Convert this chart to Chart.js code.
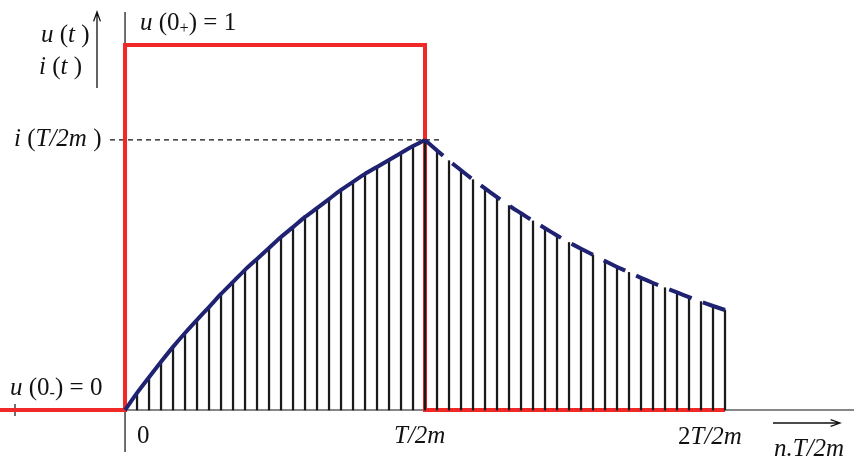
<!DOCTYPE html>
<html>
<head>
<meta charset="utf-8">
<script src="https://cdn.jsdelivr.net/npm/chart.js@4.4.0/dist/chart.umd.min.js"></script>
<style>
body { margin: 0; background: #fff; }
#wrap { width: 854px; height: 459px; }
</style>
</head>
<body>
<div id="wrap"><canvas id="myChart"></canvas></div>
<script>
// input step u(t): time (in steps n) and value
var uTimes  = [-11, 0, 0, 25, 25, 50];
var uValues = [0, 0, 1, 1, 0, 0];

// current samples i(n.T/2m), u(0+) = 1
var riseN = [0,1,2,3,4,5,6,7,8,9,10,11,12,13,14,15,16,17,18,19,20,21,22,23,24,25];
var riseI = [0, .047, .090, .132, .173, .211, .247, .282, .318, .351, .384, .414, .444,
             .474, .501, .529, .553, .578, .603, .625, .647, .666, .685, .704, .723, .740];
var fallN = [25,26,27,28,29,30,31,32,33,34,35,36,37,38,39,40,41,42,43,44,45,46,47,48,49,50];
var fallI = [.740, .711, .683, .657, .631, .607, .583, .560, .539, .518, .498, .478, .459,
             .442, .425, .408, .392, .377, .362, .348, .335, .322, .309, .297, .285, .274];

var peakN = 25;
var peakI = .740;

function pts(xs, ys) {
    return xs.map(function (x, k) { return { x: x, y: ys[k] }; });
}

// stems at every sample n = 1..50
var stems = pts(riseN, riseI).slice(1).concat(pts(fallN, fallI).slice(1));

var serif = '"Liberation Serif", "Times New Roman", serif';
var FS = 25;

// draw text made of parts: [text, 'i' italic | 'r' regular | 's' subscript]
function rich(ctx, x, y, parts) {
    ctx.textBaseline = 'middle';
    ctx.textAlign = 'left';
    ctx.fillStyle = '#111';
    parts.forEach(function (p) {
        var size = p[1] == 's' ? FS * 0.65 : FS;
        var dy = p[1] == 's' ? 6 : 0;
        ctx.font = (p[1] == 'i' ? 'italic ' : '') + size + 'px ' + serif;
        ctx.fillText(p[0], x, y + dy);
        x += ctx.measureText(p[0]).width;
    });
}

function arrow(ctx, x1, y1, x2, y2) {
    ctx.beginPath();
    ctx.moveTo(x1, y1);
    ctx.lineTo(x2, y2);
    var a = Math.atan2(y2 - y1, x2 - x1);
    ctx.moveTo(x2 - 10 * Math.cos(a - 0.35), y2 - 10 * Math.sin(a - 0.35));
    ctx.lineTo(x2, y2);
    ctx.lineTo(x2 - 10 * Math.cos(a + 0.35), y2 - 10 * Math.sin(a + 0.35));
    ctx.stroke();
}

var axesPlugin = {
    id: 'axes',
    beforeDatasetsDraw: function (chart) {
        var ctx = chart.ctx, xs = chart.scales.x, ys = chart.scales.y;
        var x0 = xs.getPixelForValue(0), y0 = ys.getPixelForValue(0);
        ctx.save();
        ctx.strokeStyle = '#111';
        ctx.lineWidth = 1.2;
        ctx.beginPath();
        ctx.moveTo(5, y0); ctx.lineTo(chart.width, y0);
        ctx.moveTo(x0, 12); ctx.lineTo(x0, 452);
        ctx.moveTo(15, y0 - 6); ctx.lineTo(15, y0 + 6);
        ctx.stroke();
        // dashed level of i(T/2m)
        var yp = ys.getPixelForValue(peakI);
        ctx.setLineDash([5, 4]);
        ctx.beginPath();
        ctx.moveTo(110, yp); ctx.lineTo(xs.getPixelForValue(peakN) + 18, yp);
        ctx.stroke();
        ctx.restore();
    },
    afterDraw: function (chart) {
        var ctx = chart.ctx, xs = chart.scales.x, ys = chart.scales.y;
        ctx.save();
        ctx.strokeStyle = '#111';
        ctx.lineWidth = 1.3;
        arrow(ctx, 97, 88, 97, 12);
        arrow(ctx, 773, 423, 840, 423);
        rich(ctx, 41, 35, [['u', 'i'], [' (', 'r'], ['t', 'i'], [' )', 'r']]);
        rich(ctx, 39, 67, [['i', 'i'], [' (', 'r'], ['t', 'i'], [' )', 'r']]);
        rich(ctx, 140, 23, [['u', 'i'], [' (0', 'r'], ['+', 's'], [') = 1', 'r']]);
        rich(ctx, 14, ys.getPixelForValue(peakI), [['i', 'i'], [' (', 'r'], ['T/2m', 'i'], [' )', 'r']]);
        rich(ctx, 10, 388, [['u', 'i'], [' (0', 'r'], ['-', 's'], [') = 0', 'r']]);
        rich(ctx, 137, 436, [['0', 'r']]);
        rich(ctx, 394, 436, [['T/2m', 'i']]);
        rich(ctx, 678, 437, [['2', 'r'], ['T/2m', 'i']]);
        rich(ctx, 774, 449, [['n.T/2m', 'i']]);
        ctx.restore();
    }
};

var ctx = document.getElementById("myChart").getContext('2d');
var myChart = new Chart(ctx, {
    type: 'line',
    data: {
        datasets: [{
            data: pts(uTimes, uValues),
            borderColor: '#f02828',
            borderWidth: 4,
            pointRadius: 0,
            tension: 0,
            borderJoinStyle: 'miter',
            order: 4
        }, {
            type: 'bar',
            data: stems,
            backgroundColor: '#1a1a1a',
            barThickness: 1.6,
            order: 3
        }, {
            data: pts(riseN, riseI),
            borderColor: '#1e2270',
            borderWidth: 4,
            pointRadius: 0,
            tension: 0.2,
            order: 2
        }, {
            data: pts(fallN, fallI),
            borderColor: '#1e2270',
            borderWidth: 4,
            borderDash: [24, 12],
            pointRadius: 0,
            tension: 0.2,
            order: 1
        }]
    },
    options: {
        responsive: true,
        maintainAspectRatio: false,
        animation: false,
        layout: { padding: 0 },
        plugins: { legend: { display: false }, tooltip: { enabled: false } },
        scales: {
            x: { type: 'linear', display: false, offset: false, min: -10.42, max: 60.75 },
            y: { display: false, min: -0.1342, max: 1.1233 }
        }
    },
    plugins: [axesPlugin]
});
</script>
</body>
</html>
